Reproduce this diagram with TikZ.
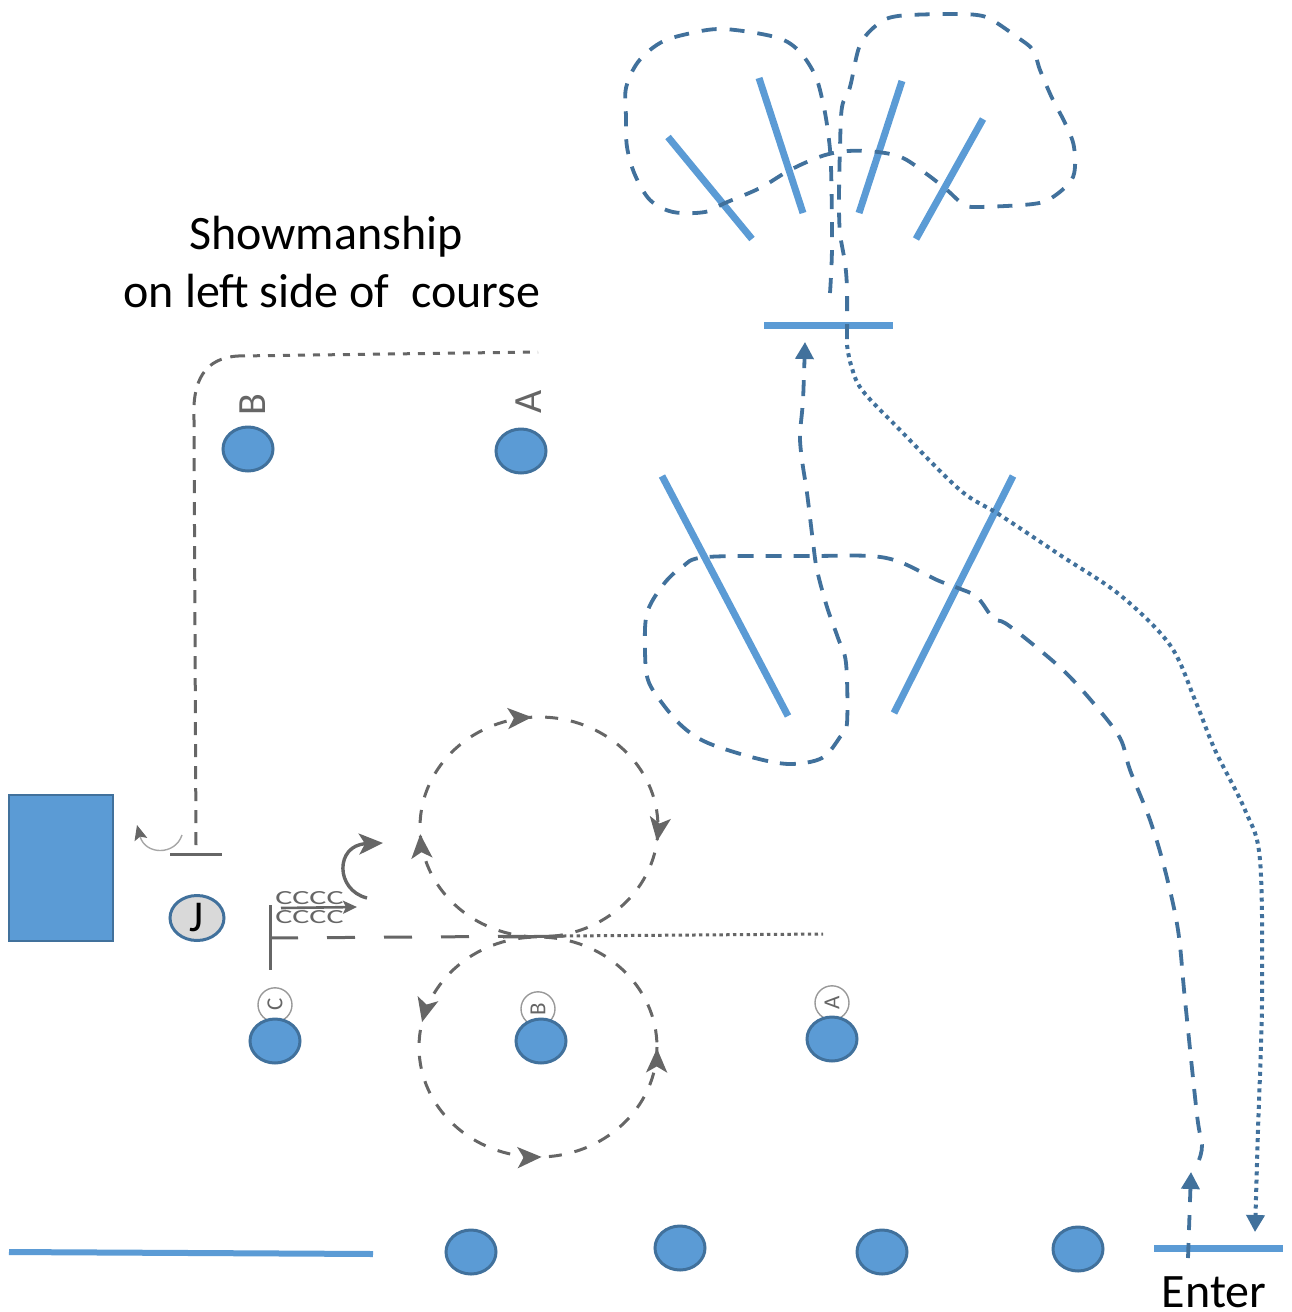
\documentclass[tikz,border=0pt]{standalone}
\usepackage{fontspec}
\setmainfont{Carlito}
\usetikzlibrary{positioning, arrows.meta, shapes.geometric, decorations.markings}
\pgfdeclarelayer{background}
\pgfsetlayers{background,main}
\definecolor{coneblue}{HTML}{5B9BD5}
\definecolor{rundark}{HTML}{41719C}
\definecolor{rungray}{HTML}{666666}

\begin{document}
\begin{tikzpicture}
        [
        x=1pt, y=-1pt,
        cone/.style = {ellipse, draw=rundark, line width=3pt, fill=coneblue, minimum width=50pt, minimum height=44pt, inner sep=0pt},
        gate/.style = {draw=coneblue, line width=7pt},
        bluedash/.style = {draw=rundark, line width=3.8pt, dash pattern=on 15pt off 13pt},
        bluedot/.style = {draw=rundark, line width=4pt, dash pattern=on 4pt off 4.3pt},
        graydash/.style = {draw=rungray, line width=3pt, dash pattern=on 13pt off 13pt},
        ring/.style = {circle, draw=gray!80, line width=1.4pt, minimum size=34pt, inner sep=0pt, text=rungray, font=\fontsize{23}{23}\selectfont},
        bigletter/.style = {inner sep=0pt, text=rungray, font=\fontsize{40}{40}\selectfont},
        bluetip/.tip = {Triangle[length=17pt, width=18pt]},
        graytip/.tip = {Stealth[length=24pt, width=21pt, inset=6pt]},
        caption/.style = {align=center, font=\fontsize{48}{58}\selectfont}
        ]
    \useasboundingbox (0,0) rectangle (1292,1312);

    % cones and judge
    \node[cone] (topb) at (248,449) {};
    \node[cone] (topa) at (521,451) {};
    \node[cone] (lowc) at (275,1041) {};
    \node[cone] (lowb) at (541,1041) {};
    \node[cone] (lowa) at (832,1039) {};
    \node[cone] (baseone) at (471,1252) {};
    \node[cone] (basetwo) at (680,1248) {};
    \node[cone] (basethree) at (882,1252) {};
    \node[cone] (basefour) at (1078,1249) {};
    \node[ellipse, draw=rundark, line width=3pt, fill=gray!30, minimum width=54pt, minimum height=45pt, inner sep=0pt, font=\fontsize{44}{44}\selectfont] (judge) at (197,918) {J};
    \node[draw=rundark, line width=2pt, fill=coneblue, minimum width=104pt, minimum height=146pt, inner sep=0pt] (stand) at (60.5,867.5) {};

    % letters
    \node[bigletter] (lettertopb) at (253,405) {\rotatebox{90}{B}};
    \node[bigletter] (lettertopa) at (529,402) {\rotatebox{90}{A}};
    \begin{pgfonlayer}{background}
    \node[ring, above=-5pt of lowc] (ringc) {\rotatebox{90}{C}};
    \node[ring, above=-9pt of lowb, xshift=-3pt] (ringb) {\rotatebox{90}{B}};
    \node[ring, above=-5pt of lowa] (ringa) {\rotatebox{90}{A}};
    \end{pgfonlayer}

    % texts
    \node[caption] (show) at (332,262) {Showmanship\hspace*{12pt}\\on left side of\ \ course};
    \node[font=\fontsize{48}{48}\selectfont, anchor=base, inner sep=0pt] (enter) at (1214,1307) {Enter};

    % gates
    \coordinate (fana) at (668,137); \coordinate (fanb) at (752,239);
    \coordinate (fanc) at (759,78);  \coordinate (fand) at (803,213);
    \coordinate (fane) at (902,81);  \coordinate (fanf) at (859,213);
    \coordinate (fang) at (983,119); \coordinate (fanh) at (916,239);
    \coordinate (barl) at (764,325); \coordinate (barr) at (893,325);
    \coordinate (midal) at (662,476); \coordinate (midar) at (788,716);
    \coordinate (midbl) at (1013,476); \coordinate (midbr) at (894,713);
    \coordinate (enterl) at (1154,1248); \coordinate (enterr) at (1283,1248);
    \coordinate (basel) at (9,1252); \coordinate (baser) at (373,1254);
    \draw[gate] (fana) -- (fanb);
    \draw[gate] (fanc) -- (fand);
    \draw[gate] (fane) -- (fanf);
    \draw[gate] (fang) -- (fanh);
    \draw[gate] (barl) -- (barr);
    \draw[gate] (midal) -- (midar);
    \draw[gate] (midbl) -- (midbr);
    \draw[gate] (enterl) -- (enterr);
    \draw[gate, line width=6pt] (basel) -- (baser);

    % blue run
    \coordinate (runstart) at (1188,1258);
    \coordinate (runtip) at (1191,1172);
    \coordinate (runback) at (1199,1160);
    \coordinate (midtip) at (805,342);
    \coordinate (fanstart) at (830,293);
    \coordinate (fanend) at (847,345);
    \coordinate (exittip) at (1255,1232);
    \draw[bluedash, -{bluetip}] (runstart) -- (runtip);
    \draw[bluedash, -{bluetip}, dash pattern=on 16pt off 12pt] plot[smooth, tension=.55] coordinates {(runback) (1202,1145) (1197,1115) (1185,1000) (1178,930) (1165,870) (1150,820) (1130,770) (1120,738) (1095,705) (1065,672) (1030,642) (1005,623) (993,618) (977,597) (958,588) (937,580) (900,562) (870,556) (813,556) (707,557) (682,567) (663,585) (647,613) (645,650) (648,680) (662,703) (683,727) (708,743) (755,758) (790,764) (822,758) (840,737) (847,723) (846,663) (838,638) (827,607) (817,570) (813,542) (807,493) (802,460) (800,435) (803,400) (midtip)};
    \draw[bluedash] plot[smooth, tension=.55] coordinates {(fanstart) (832,247) (831,167) (828,132) (823,103) (815,75) (798,50) (775,37) (723,29) (687,34) (660,43) (638,62) (626,88) (626,117) (627,147) (635,175) (650,200) (673,212) (705,212) (725,203) (760,188) (790,170) (822,156) (848,151) (878,152) (903,158) (928,175) (947,190) (963,204) (977,207) (1033,204) (1053,197) (1073,177) (1074,147) (1065,123) (1052,98) (1040,70) (1033,50) (1017,37) (992,20) (977,15) (948,14) (898,16) (878,24) (860,45) (850,87) (842,107) (840,147) (839,200) (840,233) (845,263) (847,290) (fanend)};
    \draw[bluedot, -{bluetip}] plot[smooth, tension=.55] coordinates {(fanend) (851,365) (862,390) (900,430) (960,490) (1000,515) (1060,555) (1120,595) (1170,645) (1195,700) (1215,750) (1245,810) (1260,860) (1262,1000) (1258,1130) (exittip)};

    % gray run
    \coordinate (centerup) at (539,827);
    \coordinate (centerlow) at (538,1047);
    \coordinate (startbarl) at (170,854); \coordinate (startbarr) at (222,854);
    \coordinate (cornerend) at (238,356);
    \coordinate (topend) at (538,352);
    \coordinate (teetop) at (270,905); \coordinate (teebot) at (270,970);
    \coordinate (teeleft) at (270,938); \coordinate (teemid) at (563,936); \coordinate (teeend) at (823,934);
    \draw[rungray, line width=3pt] (startbarl) -- (startbarr);
    \draw[graydash, dash pattern=on 13pt off 9pt] (196,845) -- (194,420) .. controls (192,380) and (205,358) .. (cornerend);
    \draw[graydash, dash pattern=on 7pt off 8pt] (cornerend) -- (topend);
    \draw[rungray, line width=3pt] (teetop) -- (teebot);
    \draw[graydash, dash pattern=on 28pt off 29pt] (teeleft) -- (teemid);
    \draw[rungray, line width=3pt] (503,937) -- (teemid);
    \draw[graydash, dash pattern=on 3.4pt off 3.4pt] (teemid) -- (teeend);
    \draw[graydash, postaction={decorate}, decoration={markings,
        mark=at position .02 with {\arrow{graytip}},
        mark=at position .49 with {\arrow{graytip}},
        mark=at position .74 with {\arrow{graytip}}}] (centerup) ellipse (119 and 110);
    \draw[graydash, postaction={decorate}, decoration={markings,
        mark=at position .002 with {\arrowreversed{graytip}},
        mark=at position .245 with {\arrowreversed{graytip}},
        mark=at position .535 with {\arrowreversed{graytip}}}] (centerlow) ellipse (119 and 110);

    % backing and canter
    \node[rungray, inner sep=0pt, font=\fontsize{20}{20}\selectfont, align=center] (letters) at (309.5,908) {\scalebox{1.6}[1]{CCCC}\\[-1pt]\scalebox{1.6}[1]{CCCC}};
    \coordinate (backa) at (281,908); \coordinate (backb) at (357,907);
    \draw[rungray, line width=2.6pt, -{Stealth[length=14pt, width=13pt, inset=3pt]}] (backa) -- (backb);
    \coordinate (turna) at (367,898); \coordinate (turnb) at (383,843);
    \draw[rungray, line width=3.4pt, -{graytip}] (turna) .. controls (335,890) and (335,845) .. (turnb);
    \coordinate (pivota) at (182,835); \coordinate (pivotb) at (137,825);
    \draw[gray!70, line width=1.4pt, -{Stealth[length=15pt, width=13pt, inset=3pt, rungray]}] (pivota) .. controls (175,856) and (145,855) .. (pivotb);
\end{tikzpicture}
\end{document}
